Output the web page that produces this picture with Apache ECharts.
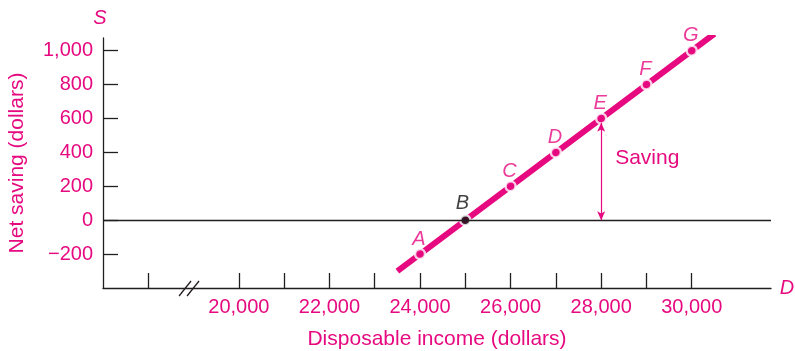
<!DOCTYPE html>
<html>
<head>
<meta charset="utf-8">
<script src="https://cdn.jsdelivr.net/npm/echarts@6/dist/echarts.min.js"></script>
<style>
html,body{margin:0;padding:0;background:#fff;}
#chart{width:795px;height:351px;}
</style>
</head>
<body>
<div id="chart"></div>
<script>
// ---- data ----
const pointNames = ['A', 'B', 'C', 'D', 'E', 'F', 'G'];
const incomes = [24000, 25000, 26000, 27000, 28000, 29000, 30000];
const savings = [-200, 0, 200, 400, 600, 800, 1000];
const lineIncome = [23500, 30500];
const lineSaving = [-300, 1100];
const xTickValues = [18000, 20000, 21000, 22000, 23000, 24000, 25000, 26000, 27000, 28000, 29000, 30000];
const xLabelValues = [20000, 22000, 24000, 26000, 28000, 30000];
const yTickValues = [-200, 0, 200, 400, 600, 800, 1000];
const arrowIncome = 28000;
const arrowFrom = 0;
const arrowTo = 575;
const savingTextAt = [28000, 368];
const breakAt = 18900;

const MAG = '#e6097f';
const DARK = '#231f20';
const FONT = '"Liberation Sans", Arial, sans-serif';
const FS = 20;
const NFS = 21;

const chart = echarts.init(document.getElementById('chart'), null, {renderer: 'canvas'});
const fmt = v => v.toLocaleString('en-US').replace('-', '\u2212');

const option = {
  animation: false,
  grid: {left: 103, right: 24, top: 38, bottom: 63, containLabel: false, outerBoundsMode: 'none'},
  xAxis: {
    type: 'value', min: 17000, max: 31750,
    name: 'Disposable income (dollars)', nameLocation: 'middle', nameGap: 41,
    nameTextStyle: {color: MAG, fontSize: NFS, fontFamily: FONT},
    axisLine: {show: true, onZero: false, lineStyle: {color: DARK, width: 1.3}},
    axisTick: {show: true, inside: true, length: 15, customValues: xTickValues, lineStyle: {color: DARK, width: 1.3}},
    axisLabel: {customValues: xLabelValues, formatter: fmt, color: MAG, fontSize: FS, fontFamily: FONT, margin: 9},
    splitLine: {show: false}
  },
  yAxis: {
    type: 'value', min: -400, max: 1075,
    name: 'Net saving (dollars)', nameLocation: 'middle', nameGap: 75, nameRotate: 90,
    nameTextStyle: {color: MAG, fontSize: NFS, fontFamily: FONT},
    axisLine: {show: true, onZero: false, lineStyle: {color: DARK, width: 1.3}},
    axisTick: {show: true, inside: true, length: 15, customValues: yTickValues, lineStyle: {color: DARK, width: 1.3}},
    axisLabel: {customValues: yTickValues, formatter: fmt, color: MAG, fontSize: FS, fontFamily: FONT, margin: 10},
    splitLine: {show: false}
  },
  series: [
    {
      type: 'line', data: [], z: 1, silent: true,
      markLine: {
        silent: true, symbol: 'none', label: {show: false},
        lineStyle: {color: DARK, width: 1.3, type: 'solid'},
        data: [{yAxis: 0}]
      }
    },
    {
      type: 'line', data: [], z: 1, silent: true,
      markLine: {
        silent: true, symbol: ['arrow', 'arrow'], symbolSize: [6, 9], label: {show: false},
        lineStyle: {color: MAG, width: 1.2, type: 'solid'},
        data: [[{coord: [arrowIncome, arrowFrom]}, {coord: [arrowIncome, arrowTo]}]]
      }
    },
    {
      type: 'line', z: 2, silent: true, symbol: 'none',
      data: lineIncome.map((x, i) => [x, lineSaving[i]]),
      lineStyle: {color: MAG, width: 6, cap: 'butt'}
    },
    {
      type: 'scatter', z: 3, silent: true, symbolSize: 10,
      data: incomes.map((x, i) => ({
        value: [x, savings[i]],
        name: pointNames[i],
        itemStyle: {color: pointNames[i] === 'B' ? '#111' : MAG, borderColor: '#fff', borderWidth: 2.5},
        label: {
          show: true, position: 'inside', formatter: pointNames[i],
          offset: pointNames[i] === 'B' ? [-3, -17] : [-1, -15],
          color: pointNames[i] === 'B' ? '#111' : MAG,
          fontSize: FS, fontStyle: 'italic', fontFamily: FONT
        }
      }))
    }
  ]
};
chart.setOption(option);

function addGraphics() {
  const st = chart.convertToPixel({gridIndex: 0}, savingTextAt);
  const br = chart.convertToPixel({gridIndex: 0}, [breakAt, -400]);
  const top = chart.convertToPixel({gridIndex: 0}, [17000, 1075]);
  const right = chart.convertToPixel({gridIndex: 0}, [31750, -400]);
  const slash = (dx) => ({
    type: 'line', silent: true,
    shape: {x1: br[0] + dx - 6, y1: br[1] + 8, x2: br[0] + dx + 6, y2: br[1] - 7},
    style: {stroke: DARK, lineWidth: 1.3}
  });
  chart.setOption({
    graphic: [
      {type: 'text', silent: true, x: st[0] + 14, y: st[1], style: {text: 'Saving', fill: MAG, font: NFS + 'px ' + FONT, textVerticalAlign: 'middle', textAlign: 'left'}},
      {type: 'text', silent: true, x: top[0] - 3, y: top[1] - 20, style: {text: 'S', fill: MAG, font: 'italic ' + FS + 'px ' + FONT, textVerticalAlign: 'middle', textAlign: 'center'}},
      {type: 'text', silent: true, x: right[0] + 16, y: right[1], style: {text: 'D', fill: MAG, font: 'italic ' + FS + 'px ' + FONT, textVerticalAlign: 'middle', textAlign: 'center'}},
      slash(-4), slash(4)
    ]
  });
}
addGraphics();
</script>
</body>
</html>
